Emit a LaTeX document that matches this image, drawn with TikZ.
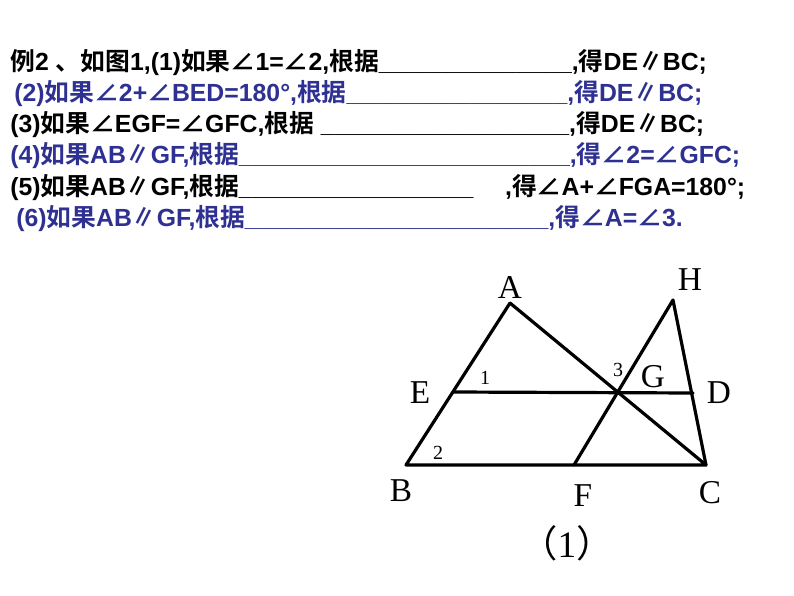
\documentclass[tikz,border=0pt]{standalone}
\usepackage{fontspec}
\setmainfont{Liberation Serif}
\newfontfamily\cjk{Noto Sans CJK SC}[BoldFont={Noto Sans CJK SC Bold}]
\newfontfamily\arial{Liberation Sans}
\definecolor{qblue}{RGB}{46,49,146}
\begin{document}
\begin{tikzpicture}[x=0.75pt,y=-0.75pt,
  ln/.style={anchor=base west,inner sep=0pt,font=\fontsize{18.6}{21}\selectfont\bfseries\arial},
  pt/.style={font=\fontsize{25}{28}\selectfont,inner sep=0pt},
  sm/.style={font=\fontsize{15}{17}\selectfont,inner sep=0pt},
  seg/.style={line width=2.4pt,line cap=round,line join=round}]
\useasboundingbox (0,0) rectangle (794,596);
\newcommand{\zh}[1]{{\cjk\bfseries #1}}
\newcommand{\ang}{{\cjk ∠}}
\node[ln] (l1) at (10,70) {\zh{例}2 \zh{、如图}1,(1)\zh{如果}\ang1=\ang2,\zh{根据}\_\_\_\_\_\_\_\_\_\_\_\_\_\_,\zh{得}DE{\cjk∥}BC;};
\node[ln,text=qblue] (l2) at (14,101) {(2)\zh{如果}\ang2+\ang BED=180°,\zh{根据}\_\_\_\_\_\_\_\_\_\_\_\_\_\_\_\_,\zh{得}DE{\cjk∥}BC;};
\node[ln] (l3) at (10,132) {(3)\zh{如果}\ang EGF=\ang GFC,\zh{根据} \_\_\_\_\_\_\_\_\_\_\_\_\_\_\_\_\_\_,\zh{得}DE{\cjk∥}BC;};
\node[ln,text=qblue] (l4) at (10,163) {(4)\zh{如果}AB{\cjk∥}GF,\zh{根据}\_\_\_\_\_\_\_\_\_\_\_\_\_\_\_\_\_\_\_\_\_\_\_\_,\zh{得}\ang2=\ang GFC;};
\node[ln] (l5) at (10,195) {(5)\zh{如果}AB{\cjk∥}GF,\zh{根据}\_\_\_\_\_\_\_\_\_\_\_\_\_\_\_\_\_\quad\ ,\zh{得}\ang A+\ang FGA=180°;};
\node[ln,text=qblue] (l6) at (16,226) {(6)\zh{如果}AB{\cjk∥}GF,\zh{根据}\_\_\_\_\_\_\_\_\_\_\_\_\_\_\_\_\_\_\_\_\_\_,\zh{得}\ang A=\ang3.};
\coordinate (A) at (510,303);
\coordinate (H) at (673,300);
\coordinate (E) at (453,392);
\coordinate (D) at (693,393);
\coordinate (G) at (617,393);
\coordinate (B) at (406,465);
\coordinate (F) at (574,465);
\coordinate (C) at (706,465);
\draw[seg] (A) -- (B) -- (C) -- (A);
\draw[seg] (E) -- (D);
\draw[seg] (F) -- (H) -- (C);
\node[pt] (nA) at (510,287) {A};
\node[pt] (nH) at (690,280) {H};
\node[pt] (nE) at (420,393) {E};
\node[pt] (nD) at (719,393) {D};
\node[pt] (nG) at (653,377) {G};
\node[pt] (nB) at (401,491) {B};
\node[pt] (nF) at (583,496) {F};
\node[pt] (nC) at (710,493) {C};
\node[sm] (n1) at (485,378) {1};
\node[sm] (n2) at (438,453) {2};
\node[sm] (n3) at (618,370) {3};
\node[font=\fontsize{28}{30}\selectfont,inner sep=0pt] (cap) at (567,543) {{\cjk （}1{\cjk ）}};
\end{tikzpicture}
\end{document}
